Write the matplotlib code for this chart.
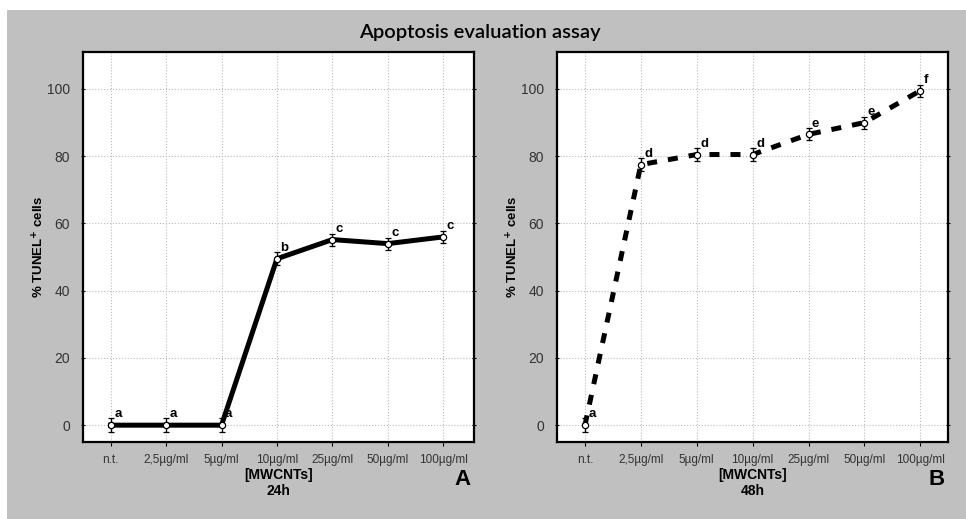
import matplotlib
matplotlib.use("Agg")
import matplotlib.pyplot as plt
from matplotlib.patches import Rectangle

# ---------------------- data
doses = ['n.t.', '2,5\u00b5g/ml', '5\u00b5g/ml', '10\u00b5g/ml', '25\u00b5g/ml', '50\u00b5g/ml', '100\u00b5g/ml']
tunel_24h = [0, 0, 0, 49.5, 55.2, 54.0, 56.0]
err_24h = [2, 2, 2, 2, 1.8, 1.8, 1.8]
letters_24h = ['a', 'a', 'a', 'b', 'c', 'c', 'c']
tunel_48h = [0, 77.5, 80.5, 80.5, 86.5, 90.0, 99.5]
err_48h = [2, 2, 2, 2, 1.8, 1.8, 1.8]
letters_48h = ['a', 'd', 'd', 'd', 'e', 'e', 'f']
yticks = [0, 20, 40, 60, 80, 100]

plt.rcParams['font.family'] = ['Liberation Sans', 'DejaVu Sans']

fig = plt.figure(figsize=(9.66, 5.19), dpi=100)
fig.patch.set_facecolor('white')
fig.patches.append(Rectangle((7/966, 0), 1, 1 - 10/519, transform=fig.transFigure,
                             facecolor='#c0c0c0', edgecolor='none', zorder=-10))

fig.text(0.497, 0.938, 'Apoptosis evaluation assay', ha='center', va='center',
         fontsize=14.5, fontweight='semibold', family=['Lato', 'DejaVu Sans'], color='black')

panels = [
    (0.0859, tunel_24h, err_24h, letters_24h, '-', '[MWCNTs]\n24h', 'A', (-0.5, 6.56)),
    (0.5766, tunel_48h, err_48h, letters_48h, '--', '[MWCNTs]\n48h', 'B', (-0.5, 6.5)),
]

for x0, vals, errs, lets, ls, xlab, tag, xl in panels:
    ax = fig.add_axes([x0, 0.1484, 0.405, 0.7514])
    xs = list(range(len(doses)))
    line, = ax.plot(xs, vals, ls, color='black', lw=3.6, zorder=3)
    if ls == '--':
        line.set_dashes((2.0, 2.2))
    ax.errorbar(xs, vals, yerr=errs, fmt='o', ms=4.5, mfc='white', mec='black',
                mew=0.9, ecolor='black', elinewidth=1, capsize=2.5, capthick=1, zorder=4)
    for x, v, t in zip(xs, vals, lets):
        ax.annotate(t, (x, v), xytext=(2.5, 3.5), textcoords='offset points',
                    fontsize=9.5, fontweight='bold', ha='left', va='bottom', zorder=5)
    ax.set_xlim(*xl)
    ax.set_ylim(-5, 111)
    ax.set_xticks(xs)
    ax.set_xticklabels(doses, fontsize=8.5, color='#333333')
    ax.set_yticks(yticks)
    ax.set_yticklabels([str(v) for v in yticks], fontsize=10, color='#333333')
    ax.grid(True, ls=':', color='#bbbbbb', lw=0.8)
    ax.tick_params(axis='both', length=3, width=0.8)
    ax.tick_params(axis='x', pad=6)
    ax.tick_params(axis='y', pad=8, right=True, direction='inout')
    for s in ax.spines.values():
        s.set_linewidth(1.6)
    ax.set_xlabel(xlab, fontsize=10, fontweight='bold', labelpad=1, linespacing=1.15)
    ax.set_ylabel('% TUNEL$^{\\mathbf{+}}$ cells', fontsize=9.5, fontweight='bold', labelpad=0)
    ax.text(0.97, -0.095, tag, transform=ax.transAxes, fontsize=16, fontweight='bold',
            ha='center', va='center')

fig.savefig('out.png', dpi=100, facecolor=fig.get_facecolor())
